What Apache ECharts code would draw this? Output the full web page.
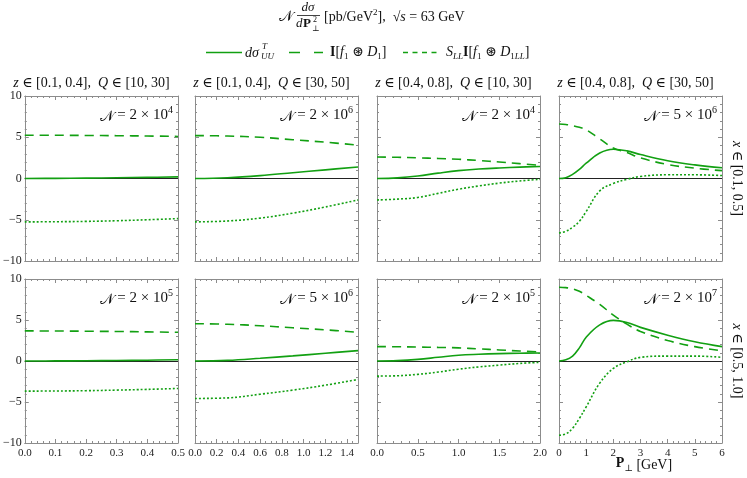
<!DOCTYPE html>
<html>
<head>
<meta charset="utf-8">
<script src="https://cdn.jsdelivr.net/npm/echarts@6/dist/echarts.min.js"></script>
<style>
html,body{margin:0;padding:0;background:#fff;}
#chart{width:747px;height:478px;}
</style>
</head>
<body>
<div id="chart"></div>
<script>
// ---- data ----
// row 1 : x in [0.1,0.5]
const xA = [0, 0.1, 0.2, 0.3, 0.4, 0.5];
const solidA = [0, 0.02, 0.05, 0.09, 0.14, 0.2];
const dashA = [5.25, 5.24, 5.22, 5.19, 5.15, 5.1];
const dotA = [-5.26, -5.24, -5.2, -5.12, -5.0, -4.86];

const xB = [0, 0.3, 0.6, 0.9, 1.2, 1.5];
const solidB = [0, 0.1, 0.35, 0.7, 1.05, 1.4];
const dashB = [5.2, 5.15, 5.0, 4.7, 4.4, 4.05];
const dotB = [-5.26, -5.15, -4.8, -4.2, -3.45, -2.6];

const xC = [0, 0.25, 0.5, 0.75, 1, 1.25, 1.5, 1.75, 2];
const solidC = [0, 0.08, 0.3, 0.65, 0.96, 1.15, 1.28, 1.38, 1.45];
const dashC = [2.6, 2.57, 2.5, 2.43, 2.33, 2.18, 2.0, 1.8, 1.6];
const dotC = [-2.6, -2.5, -2.3, -1.8, -1.3, -0.9, -0.56, -0.3, -0.1];

const xD = [0, 0.25, 0.5, 0.75, 1, 1.5, 2, 2.5, 3, 4, 5, 6];
const solidD = [0, 0.1, 0.5, 1.1, 1.85, 3.1, 3.55, 3.35, 2.9, 2.15, 1.65, 1.3];
const dashD = [6.6, 6.55, 6.4, 6.2, 5.9, 4.8, 3.7, 3.15, 2.5, 1.7, 1.25, 0.95];
const dotD = [-6.6, -6.4, -5.9, -5.2, -4.0, -1.5, -0.6, -0.1, 0.25, 0.45, 0.45, 0.36];

// row 2 : x in [0.5,1.0]
const xE = [0, 0.1, 0.2, 0.3, 0.4, 0.5];
const solidE = [0, 0.01, 0.03, 0.06, 0.1, 0.15];
const dashE = [3.67, 3.66, 3.63, 3.6, 3.55, 3.5];
const dotE = [-3.67, -3.66, -3.62, -3.55, -3.46, -3.35];

const xF = [0, 0.3, 0.6, 0.9, 1.2, 1.5];
const solidF = [0, 0.08, 0.33, 0.62, 0.95, 1.27];
const dashF = [4.55, 4.48, 4.3, 4.05, 3.8, 3.5];
const dotF = [-4.57, -4.5, -4.05, -3.55, -2.95, -2.25];

const xG = [0, 0.25, 0.5, 0.75, 1, 1.25, 1.5, 1.75, 2];
const solidG = [0, 0.05, 0.2, 0.45, 0.7, 0.82, 0.9, 0.95, 0.98];
const dashG = [1.75, 1.74, 1.7, 1.66, 1.6, 1.48, 1.35, 1.22, 1.1];
const dotG = [-1.84, -1.8, -1.63, -1.35, -1.0, -0.72, -0.5, -0.3, -0.16];

const xH = [0, 0.25, 0.5, 0.75, 1, 1.5, 2, 2.5, 3, 4, 5, 6];
const solidH = [0, 0.15, 0.6, 1.6, 2.9, 4.4, 4.95, 4.7, 4.1, 3.15, 2.35, 1.75];
const dashH = [9.0, 8.95, 8.8, 8.5, 8.0, 6.9, 5.6, 4.5, 3.6, 2.5, 1.75, 1.25];
const dotH = [-9.05, -8.9, -8.2, -7.0, -5.6, -2.7, -0.9, -0.1, 0.45, 0.6, 0.6, 0.45];

// axis ranges / tick labels per column
const xMaxes = [0.5, 1.5, 2, 6];
const xSteps = [0.1, 0.2, 0.5, 1];
const xMinorSplits = [5, 4, 5, 5];
const xDecimals = [1, 1, 1, 0];
const yTicks = [-10, -5, 0, 5, 10];

// texts
const normMant = ['2', '2', '2', '5', '2', '5', '2', '2'];
const normExp = ['4', '6', '4', '6', '5', '6', '5', '7'];
const colZ = ['[0.1, 0.4]', '[0.1, 0.4]', '[0.4, 0.8]', '[0.4, 0.8]'];
const colQ = ['[10, 30]', '[30, 50]', '[10, 30]', '[30, 50]'];
const rowX = ['[0.1, 0.5]', '[0.5, 1.0]'];

// ---- build ----
const panelX = [xA, xB, xC, xD, xE, xF, xG, xH];
const panelSolid = [solidA, solidB, solidC, solidD, solidE, solidF, solidG, solidH];
const panelDash = [dashA, dashB, dashC, dashD, dashE, dashF, dashG, dashH];
const panelDot = [dotA, dotB, dotC, dotD, dotE, dotF, dotG, dotH];

const GREEN = '#12a012';
const FRAME = '#8c8c8c';
const FONT = '"Liberation Serif", "DejaVu Serif", serif';
const colLeft = [15, 195, 377, 559];
const colW = 163;
const rowTop = [96, 279];
const rowH = [165, 164];

const grids = [], xAxes = [], yAxes = [], series = [], graphics = [];

function fmtNum(v, d) {
  return v.toFixed(d).replace('-', '\u2212');
}

for (let g = 0; g < 8; g++) {
  const r = Math.floor(g / 4), c = g % 4;
  grids.push({left: colLeft[c], top: rowTop[r], width: colW, height: rowH[r], show: false, containLabel: false});
  const baseX = {
    gridIndex: g, type: 'value', min: 0, max: xMaxes[c], interval: xSteps[c],
    axisLine: {show: true, onZero: false, lineStyle: {color: FRAME, width: 1}},
    axisTick: {show: true, inside: true, length: 4, lineStyle: {color: FRAME}},
    minorTick: {show: true, splitNumber: xMinorSplits[c], length: 2, lineStyle: {color: FRAME}},
    splitLine: {show: false}, minorSplitLine: {show: false}
  };
  xAxes.push(Object.assign({}, baseX, {
    position: 'bottom',
    axisLabel: {show: r === 1, fontFamily: FONT, fontSize: 11, color: '#222', margin: 5,
      showMaxLabel: c !== 1, formatter: v => fmtNum(v, xDecimals[c])}
  }));
  xAxes.push(Object.assign({}, baseX, {position: 'top', axisLabel: {show: false}}));
  const baseY = {
    gridIndex: g, type: 'value', min: -10, max: 10, interval: 5,
    axisLine: {show: true, onZero: false, lineStyle: {color: FRAME, width: 1}},
    axisTick: {show: true, inside: true, length: 4, lineStyle: {color: FRAME}},
    minorTick: {show: true, splitNumber: 5, length: 2, lineStyle: {color: FRAME}},
    splitLine: {show: false}, minorSplitLine: {show: false}
  };
  yAxes.push(Object.assign({}, baseY, {
    position: 'left',
    axisLabel: {show: c === 0, fontFamily: FONT, fontSize: 12, color: '#222', margin: 3,
      formatter: v => fmtNum(v, 0)}
  }));
  yAxes.push(Object.assign({}, baseY, {position: 'right', axisLabel: {show: false}}));

  const xs = panelX[g];
  const mk = (ys, dash, withZero) => {
    const s = {
      type: 'line', xAxisIndex: 2 * g, yAxisIndex: 2 * g,
      data: xs.map((x, i) => [x, ys[i]]),
      symbol: 'none', showSymbol: false, smooth: 0.4,
      lineStyle: {color: GREEN, width: 1.6, type: dash},
      silent: true, animation: false
    };
    if (withZero) {
      s.markLine = {silent: true, symbol: 'none', animation: false, label: {show: false},
        lineStyle: {color: '#222', width: 1, type: 'solid'}, data: [{yAxis: 0}], z: 1};
    }
    return s;
  };
  series.push(mk(panelSolid[g], 'solid', true));
  series.push(mk(panelDash[g], [9, 6], false));
  series.push(mk(panelDot[g], [2, 2], false));

  // normalisation label
  graphics.push({
    type: 'text', x: colLeft[c] + colW - 5, y: rowTop[r] + 19,
    style: {
      text: '{n|\uD835\uDCA9} = ' + normMant[g] + ' \u00D7 10{e|' + normExp[g] + '}',
      font: '15px ' + FONT, fill: '#111', align: 'right', verticalAlign: 'middle',
      rich: {
        n: {fontFamily: FONT, fontSize: 15, fill: '#111', lineHeight: 19, verticalAlign: 'bottom'},
        e: {fontFamily: FONT, fontSize: 10, fill: '#111', lineHeight: 19, verticalAlign: 'top'}
      }
    }
  });
}

// column titles
for (let c = 0; c < 4; c++) {
  graphics.push({
    type: 'text', x: colLeft[c] + colW / 2 - 5, y: 83,
    style: {
      text: '{i|z} \u2208 ' + colZ[c] + ',  {i|Q} \u2208 ' + colQ[c],
      font: '14px ' + FONT, fill: '#111', align: 'center', verticalAlign: 'middle',
      rich: {i: {fontFamily: FONT, fontSize: 14, fontStyle: 'italic', fill: '#111'}}
    }
  });
}
// row labels (rotated)
for (let r = 0; r < 2; r++) {
  graphics.push({
    type: 'text', x: 737, y: rowTop[r] + rowH[r] / 2, rotation: -Math.PI / 2,
    style: {
      text: '{i|x} \u2208 ' + rowX[r],
      font: '14px ' + FONT, fill: '#111', align: 'center', verticalAlign: 'middle',
      rich: {i: {fontFamily: FONT, fontSize: 14, fontStyle: 'italic', fill: '#111'}}
    }
  });
}
// x axis name
graphics.push({
  type: 'text', x: 644, y: 465,
  style: {
    text: '{b|P}{s|\u22A5} [GeV]',
    font: '14px ' + FONT, fill: '#111', align: 'center', verticalAlign: 'middle',
    rich: {
      b: {fontFamily: FONT, fontSize: 14, fontWeight: 'bold', fill: '#111', lineHeight: 17, verticalAlign: 'top'},
      s: {fontFamily: FONT, fontSize: 9, fill: '#111', lineHeight: 17, verticalAlign: 'bottom'}
    }
  }
});

// main title
const tStyle = (txt, x, y, size, extra) => ({type: 'text', x: x, y: y,
  style: Object.assign({text: txt, font: size + 'px ' + FONT, fill: '#111', align: 'left', verticalAlign: 'middle'}, extra || {})});
graphics.push(tStyle('\uD835\uDCA9', 279, 17, 15));
graphics.push(tStyle('d\u03C3', 308, 8, 13, {font: 'italic 13px ' + FONT, align: 'center'}));
graphics.push({type: 'line', shape: {x1: 297, y1: 15.5, x2: 320, y2: 15.5}, style: {stroke: '#111', lineWidth: 0.8}});
graphics.push(tStyle('d', 296, 24, 13, {font: 'italic 13px ' + FONT}));
graphics.push(tStyle('P', 303, 24, 13, {font: 'bold 13px ' + FONT}));
graphics.push(tStyle('2', 313, 20, 8));
graphics.push(tStyle('\u22A5', 312, 29, 8));
graphics.push({
  type: 'text', x: 324, y: 17,
  style: {
    text: '[pb/GeV{e|2}],  \u221A{i|s} = 63 GeV',
    font: '14px ' + FONT, fill: '#111', align: 'left', verticalAlign: 'middle',
    rich: {
      e: {fontFamily: FONT, fontSize: 9, fill: '#111', lineHeight: 18, verticalAlign: 'top'},
      i: {fontFamily: FONT, fontSize: 14, fontStyle: 'italic', fill: '#111'}
    }
  }
});

// legend (drawn manually)
const LY = 52.5;
graphics.push({type: 'line', shape: {x1: 206, y1: LY, x2: 242, y2: LY}, style: {stroke: GREEN, lineWidth: 1.6}});
graphics.push({type: 'line', shape: {x1: 289, y1: LY, x2: 323, y2: LY}, style: {stroke: GREEN, lineWidth: 1.6, lineDash: [11, 14]}});
graphics.push({type: 'line', shape: {x1: 403, y1: LY, x2: 437, y2: LY}, style: {stroke: GREEN, lineWidth: 1.6, lineDash: [5, 4.5]}});
graphics.push(tStyle('d\u03C3', 245, 53, 14, {font: 'italic 14px ' + FONT}));
graphics.push(tStyle('T', 262, 47, 9, {font: 'italic 9px ' + FONT}));
graphics.push(tStyle('UU', 261, 57, 9, {font: 'italic 9px ' + FONT}));
const legRich = {
  b: {fontFamily: FONT, fontSize: 14, fontWeight: 'bold', fill: '#111', lineHeight: 18, verticalAlign: 'middle'},
  i: {fontFamily: FONT, fontSize: 14, fontStyle: 'italic', fill: '#111', lineHeight: 18, verticalAlign: 'middle'},
  s: {fontFamily: FONT, fontSize: 9, fontStyle: 'italic', fill: '#111', lineHeight: 18, verticalAlign: 'bottom'},
  n: {fontFamily: FONT, fontSize: 9, fill: '#111', lineHeight: 18, verticalAlign: 'bottom'}
};
graphics.push({type: 'text', x: 330, y: LY,
  style: {text: '{b|I}[{i|f}{n|1} \u229B {i|D}{n|1}]', font: '14px ' + FONT, fill: '#111',
    align: 'left', verticalAlign: 'middle', rich: legRich}});
graphics.push({type: 'text', x: 446, y: LY,
  style: {text: '{i|S}{s|LL}{b|I}[{i|f}{n|1} \u229B {i|D}{n|1}{s|LL}]', font: '14px ' + FONT, fill: '#111',
    align: 'left', verticalAlign: 'middle', rich: legRich}});

const chart = echarts.init(document.getElementById('chart'), null, {renderer: 'canvas'});
chart.setOption({
  animation: false,
  backgroundColor: '#fff',
  grid: grids,
  xAxis: xAxes,
  yAxis: yAxes,
  series: series,
  graphic: graphics
});
</script>
</body>
</html>
